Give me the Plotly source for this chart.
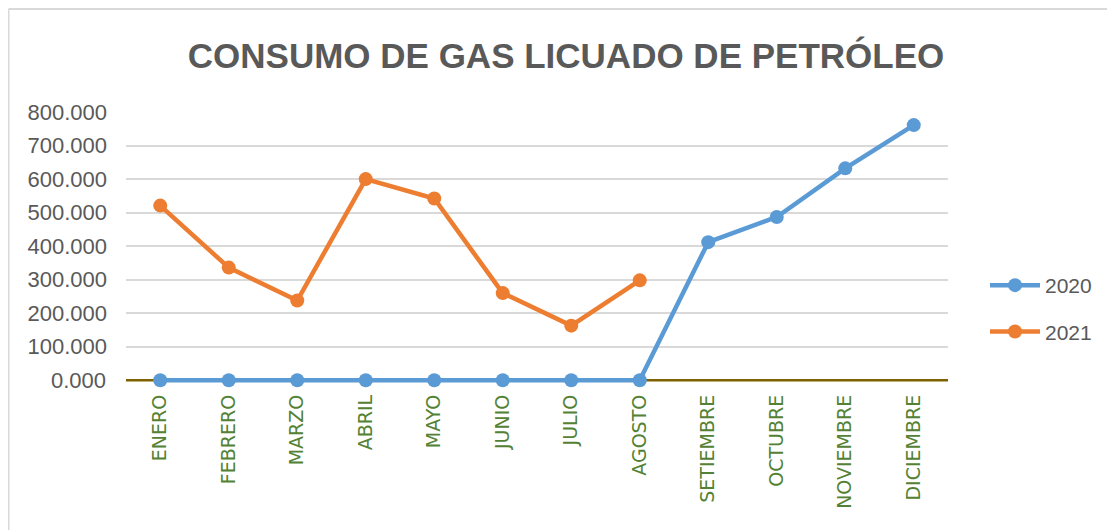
import plotly.graph_objects as go

months = ["ENERO", "FEBRERO", "MARZO", "ABRIL", "MAYO", "JUNIO", "JULIO",
          "AGOSTO", "SETIEMBRE", "OCTUBRE", "NOVIEMBRE", "DICIEMBRE"]
serie_2020 = [0, 0, 0, 0, 0, 0, 0, 0, 412, 487, 632, 761]
serie_2021 = [521, 336, 238, 600, 542, 260, 163, 298, None, None, None, None]
y_ticks = [0, 100, 200, 300, 400, 500, 600, 700, 800]

W, H = 1115, 530
L, R, T, B = 118, 175, 104, 155
pw, ph = W - L - R, H - T - B

fig = go.Figure()
fig.add_trace(go.Scatter(
    x=months, y=serie_2020, name="2020", mode="lines+markers",
    line=dict(color="#5B9BD5", width=4.5),
    marker=dict(color="#5B9BD5", size=14), legendgroup="a", cliponaxis=False))
fig.add_trace(go.Scatter(
    x=months, y=serie_2021, name="2021", mode="lines+markers",
    line=dict(color="#ED7D31", width=4.5),
    marker=dict(color="#ED7D31", size=14), legendgroup="b", cliponaxis=False))

# horizontal axis line at value 0, below the traces
fig.add_shape(type="line", xref="paper", yref="y", x0=0, x1=1, y0=0, y1=0,
              layer="below", line=dict(color="#7F6000", width=2.5))

# chart border (left & top edges visible)
bx = (0.5 - L) / pw
by = (H - B - 1) / ph
fig.add_shape(type="line", xref="paper", yref="paper",
              x0=bx, x1=bx, y0=-B / ph - 0.1, y1=by,
              line=dict(color="#D9D9D9", width=2))
fig.add_shape(type="line", xref="paper", yref="paper",
              x0=bx, x1=(W + 10 - L) / pw, y0=by, y1=by,
              line=dict(color="#D9D9D9", width=2))

fig.update_layout(
    width=W, height=H,
    margin=dict(l=L, r=R, t=T, b=B),
    paper_bgcolor="white", plot_bgcolor="white",
    title=dict(text="CONSUMO DE GAS LICUADO DE PETRÓLEO",
               x=558 / W, xref="container", xanchor="center",
               y=1 - 48 / H, yref="container", yanchor="middle",
               font=dict(family="Liberation Sans", size=35, color="#595959", weight="bold")),
    xaxis=dict(categoryorder="array", categoryarray=months,
               showgrid=False, showline=False, zeroline=False,
               tickangle=-90, ticklabelstandoff=7,
               tickfont=dict(family="DejaVu Sans", size=19, color="#548235"),
               range=[-0.5, 11.5]),
    yaxis=dict(range=[-8, 800], tickvals=y_ticks[1:], tickformat=".3f",
               showgrid=True, gridcolor="#D9D9D9", gridwidth=1.5,
               zeroline=False, showline=False, ticklabelstandoff=18,
               tickfont=dict(family="Liberation Sans", size=22, color="#595959")),
    legend=dict(x=(977 - L) / pw, xanchor="left", y=(H - B - 257) / ph, yanchor="top",
                font=dict(family="Liberation Sans", size=21, color="#595959"),
                tracegroupgap=16, itemwidth=50, bgcolor="rgba(0,0,0,0)"),
    showlegend=True,
)
# zero tick label (its gridline is replaced by the axis line)
fig.add_annotation(xref="paper", yref="y", x=0, y=y_ticks[0], xanchor="right", yanchor="middle",
                   xshift=-18, showarrow=False, text=f"{y_ticks[0]:.3f}",
                   font=dict(family="Liberation Sans", size=22, color="#595959"))

fig.write_html("out.html")
